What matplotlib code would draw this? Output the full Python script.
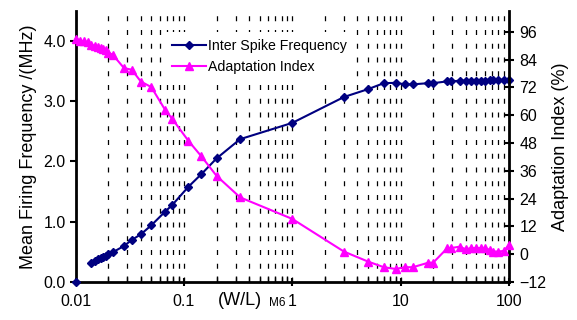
import numpy as np
import matplotlib
matplotlib.use("Agg")
import matplotlib.pyplot as plt

plt.rcParams['font.family'] = ['Liberation Sans', 'DejaVu Sans']

# (W/L) M6 sweep, shared by both series
wl = [0.01, 0.011, 0.012, 0.013, 0.014, 0.015, 0.016, 0.017, 0.018, 0.019,
      0.02, 0.022, 0.028, 0.033, 0.04, 0.05, 0.067, 0.078, 0.11, 0.145,
      0.2, 0.33, 1, 3, 5, 7, 9, 11, 13, 18, 20, 27, 29, 35, 40, 45, 50,
      55, 60, 67, 72, 80, 90, 100]

# mean firing frequency (MHz), nan = no spiking value
freq = [0.0, np.nan, np.nan, np.nan, 0.32, 0.353, 0.376, 0.398, 0.41, 0.431,
        0.464, 0.492, 0.597, 0.697, 0.79, 0.94, 1.166, 1.277, 1.58, 1.79,
        2.05, 2.37, 2.64, 3.07, 3.20, 3.30, 3.305, 3.28, 3.28, 3.30, 3.30,
        3.33, 3.33, 3.34, 3.34, 3.34, 3.34, 3.34, 3.34, 3.35, 3.35, 3.36,
        3.35, 3.35]

# adaptation index (%)
adapt = [92.8, 92.2, 91.8, 91.4, 90.4, 89.9, 89.4, 88.9, 88.5, 87.9,
         87.0, 86.1, 80.3, 79.6, 74.5, 72.1, 62.3, 58.4, 48.9, 42.2,
         33.8, 24.5, 15.2, 1.1, -3.2, -5.65, -6.4, -5.65, -5.65, -3.7, -3.7,
         2.6, 2.6, 3.2, 2.1, 2.6, 2.6, 2.6, 2.6, 1.8, 1.1, 1.1, 1.4, 4.0]

left_ticks = [0, 1, 2, 3, 4]
left_labels = ['0.0', '1.0', '2.0', '3.0', '4.0']
right_ticks = [-12, 0, 12, 24, 36, 48, 60, 72, 84, 96]
x_ticks = [0.01, 0.1, 1, 10, 100]
x_labels = ['0.01', '0.1', '1', '10', '100']

navy = '#000080'
pink = '#FF00FF'

fig = plt.figure(figsize=(5.77, 3.2), dpi=100)
ax = fig.add_axes([0.131, 0.119, 0.751, 0.847])
ax2 = ax.twinx()

ax.set_xscale('log')
ax.set_xlim(0.01, 100)
ax.set_ylim(0, 4.5)
ax2.set_ylim(-12, 105)

l1, = ax.plot(wl, freq, color=navy, lw=1.5, marker='D', ms=4,
              clip_on=False, zorder=3, label='Inter Spike Frequency')
l2, = ax2.plot(wl, adapt, color=pink, lw=1.5, marker='^', ms=6,
               clip_on=False, zorder=3, label='Adaptation Index')

# dashed vertical grid at every decade sub-division
ax.xaxis.grid(True, which='both', color='k', lw=0.9, ls=(0, (4, 7)))
ax.set_axisbelow(True)

ax.set_xticks(x_ticks)
ax.set_xticklabels(x_labels)
ax.set_yticks(left_ticks)
ax.set_yticklabels(left_labels)
ax2.set_yticks(right_ticks)

for a in (ax, ax2):
    a.spines['top'].set_visible(False)
ax.spines['right'].set_visible(False)
ax.spines['left'].set_linewidth(2)
ax.spines['bottom'].set_linewidth(2)
ax2.spines['left'].set_visible(False)
ax2.spines['bottom'].set_visible(False)
ax2.spines['right'].set_linewidth(2)

ax.tick_params(axis='y', direction='out', length=4, width=1.5, labelsize=11.5, pad=3)
ax.tick_params(axis='x', which='major', direction='inout', length=6, width=1.5,
               labelsize=11.5, pad=6)
ax.tick_params(axis='x', which='minor', direction='in', length=4, width=1)
ax2.tick_params(axis='y', direction='inout', length=7, width=1.5, labelsize=11.5, pad=4)

ax.set_ylabel('Mean Firing Frequency /(MHz)', fontsize=13, labelpad=5)
ax2.set_ylabel('Adaptation Index (%)', fontsize=13, labelpad=4)

fig.text(0.377, 0.060, '(W/L)', fontsize=13, ha='left', va='center')
fig.text(0.466, 0.053, 'M6', fontsize=8.5, ha='left', va='center')

leg = ax2.legend(handles=[l1, l2], loc='center left', bbox_to_anchor=(0.205, 0.832),
                 frameon=True, fancybox=False, fontsize=10.2, handlelength=2.4,
                 handletextpad=0.2, labelspacing=0.5, borderaxespad=0,
                 borderpad=0.5)
leg.get_frame().set_facecolor('white')
leg.get_frame().set_edgecolor('none')
leg.get_frame().set_alpha(1)

fig.savefig('out.png', dpi=100)
